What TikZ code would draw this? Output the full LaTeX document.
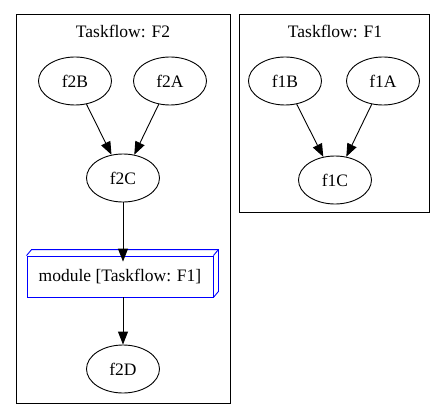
\documentclass[tikz,border=0pt]{standalone}
\usepackage{fontspec}
\setmainfont{Liberation Serif}
\usetikzlibrary{arrows.meta,shapes.geometric}
\begin{document}
\begin{tikzpicture}[x=1pt,y=-1pt,
  every node/.style={font=\fontsize{17.5}{20}\selectfont},
  task/.style={draw,ellipse,minimum width=73pt,minimum height=48pt,inner sep=0pt,line width=0.9pt},
  cluster/.style={draw,line width=1pt},
  modbox/.style={draw=blue,rectangle,minimum width=186pt,minimum height=41pt,inner sep=0pt,line width=0.9pt},
  edge/.style={line width=0.9pt,-{Triangle[length=13pt,width=10pt]}}]
\useasboundingbox (0,0) rectangle (445,420);
% clusters
\draw[cluster] (16,15) rectangle (230,403);
\draw[cluster] (239,15) rectangle (429,212);
\node (t2) at (123,31) {Taskflow: F2};
\node (t1) at (335,31) {Taskflow: F1};
% F2 nodes
\node[task] (f2B) at (75,81) {f2B};
\node[task] (f2A) at (170,81) {f2A};
\node[task] (f2C) at (123,178) {f2C};
\node[modbox] (mod) at (120,276.5) {module [Taskflow: F1]};
\draw[blue,line width=0.9pt] (mod.north west) -- ++(5,-6) -| ([xshift=5pt,yshift=6pt]mod.south east) -- (mod.south east);
\draw[blue,line width=0.9pt] (mod.north east) -- ++(5,-6);
\coordinate (modtop) at ([yshift=-6pt]mod.north);
\node[task] (f2D) at (123,369) {f2D};
% F1 nodes
\node[task] (f1B) at (285,81) {f1B};
\node[task] (f1A) at (383,81) {f1A};
\node[task] (f1C) at (335,180) {f1C};
% edges
\draw[edge] (f2B) -- (f2C);
\draw[edge] (f2A) -- (f2C);
\draw[edge] (f2C.south) -- (f2C.south |- modtop);
\draw[edge] (f2D.north |- mod.south) -- (f2D.north);
\draw[edge] (f1B) -- (f1C);
\draw[edge] (f1A) -- (f1C);
\end{tikzpicture}
\end{document}
